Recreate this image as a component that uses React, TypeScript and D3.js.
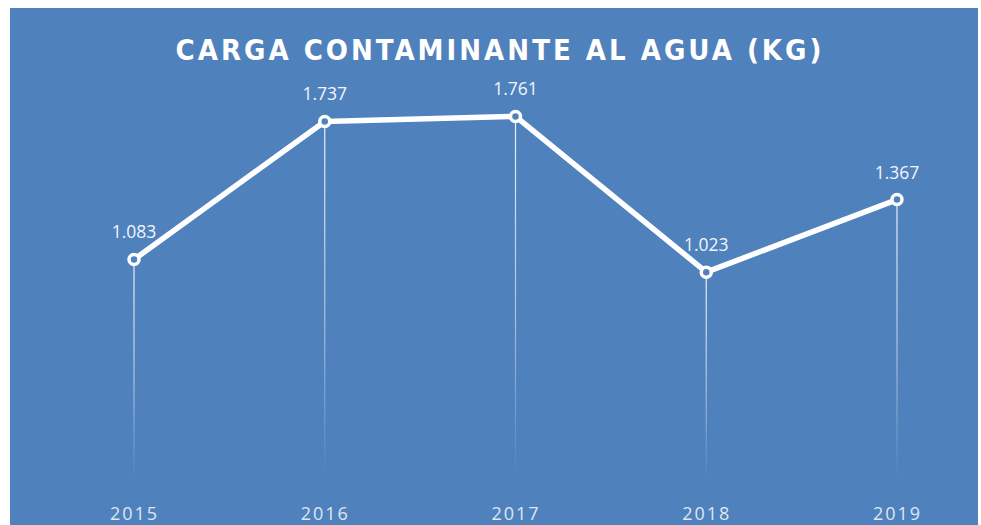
import * as d3 from 'd3'
import { useEffect, useRef } from 'react';

const years = ["2015", "2016", "2017", "2018", "2019"];
const cargas = [1.083, 1.737, 1.761, 1.023, 1.367];
const etiquetas = ["1.083", "1.737", "1.761", "1.023", "1.367"];

function drawChart(svgEl: SVGSVGElement) {
    const svg = d3.select(svgEl);
    svg.selectAll("*").remove();

    const bg = "#4f81bd";
    svg.append("rect")
        .attr("x", 10).attr("y", 8)
        .attr("width", 968).attr("height", 530)
        .attr("fill", bg);

    const x = d3.scalePoint<string>().domain(years).range([134, 897]);
    const y = d3.scaleLinear().domain([0, 2]).range([488, 66]);

    const defs = svg.append("defs");
    const grad = defs.append("linearGradient")
        .attr("id", "fade").attr("x1", 0).attr("y1", 0).attr("x2", 0).attr("y2", 1);
    grad.append("stop").attr("offset", "0%").attr("stop-color", "#fff").attr("stop-opacity", 0.9);
    grad.append("stop").attr("offset", "55%").attr("stop-color", "#fff").attr("stop-opacity", 0.5);
    grad.append("stop").attr("offset", "100%").attr("stop-color", "#fff").attr("stop-opacity", 0);

    // title
    svg.append("text")
        .attr("x", 500).attr("y", 60)
        .attr("text-anchor", "middle")
        .attr("font-family", "'DejaVu Sans Condensed', 'DejaVu Sans'")
        .attr("font-weight", "bold")
        .attr("font-size", 29)
        .attr("letter-spacing", 3)
        .attr("fill", "#fff")
        .text("CARGA CONTAMINANTE AL AGUA (KG)");

    // drop lines
    svg.append("g").selectAll("rect")
        .data(cargas)
        .join("rect")
        .attr("x", (d, i) => x(years[i])! - 0.6)
        .attr("y", d => y(d))
        .attr("width", 1.2)
        .attr("height", d => y(0) - 8 - y(d))
        .attr("fill", "url(#fade)");

    // line
    const line = d3.line<number>()
        .x((d, i) => x(years[i])!)
        .y(d => y(d));
    svg.append("path")
        .datum(cargas)
        .attr("d", line)
        .attr("fill", "none")
        .attr("stroke", "#fff")
        .attr("stroke-width", 5.5)
        .attr("stroke-linejoin", "round");

    // markers
    svg.append("g").selectAll("circle")
        .data(cargas)
        .join("circle")
        .attr("cx", (d, i) => x(years[i])!)
        .attr("cy", d => y(d))
        .attr("r", 5)
        .attr("fill", bg)
        .attr("stroke", "#fff")
        .attr("stroke-width", 3.5);

    // value labels
    svg.append("g").selectAll("text")
        .data(cargas)
        .join("text")
        .attr("x", (d, i) => x(years[i])!)
        .attr("y", d => y(d) - 21)
        .attr("text-anchor", "middle")
        .attr("font-family", "'Open Sans', sans-serif")
        .attr("font-size", 17.5)
        .attr("fill", "#f2f5fa")
        .text((d, i) => etiquetas[i]);

    // year axis
    const ax = svg.append("g")
        .call(d3.axisBottom(x).tickSize(0).tickPadding(0));
    ax.select(".domain").remove();
    ax.selectAll("text")
        .attr("y", 520)
        .attr("dy", 0)
        .attr("font-family", "'Open Sans', sans-serif")
        .attr("font-size", 18)
        .attr("letter-spacing", 2)
        .attr("fill", "#dfe6f1");
}

function App() {
    const ref = useRef<SVGSVGElement>(null);
    useEffect(() => {
        if (ref.current) drawChart(ref.current);
    });

    return (
        <svg ref={ref} width={981} height={525}
            style={{ position: "absolute", left: 0, top: 0, background: "#fff" }}>
        </svg>
    );
}

export default App;
